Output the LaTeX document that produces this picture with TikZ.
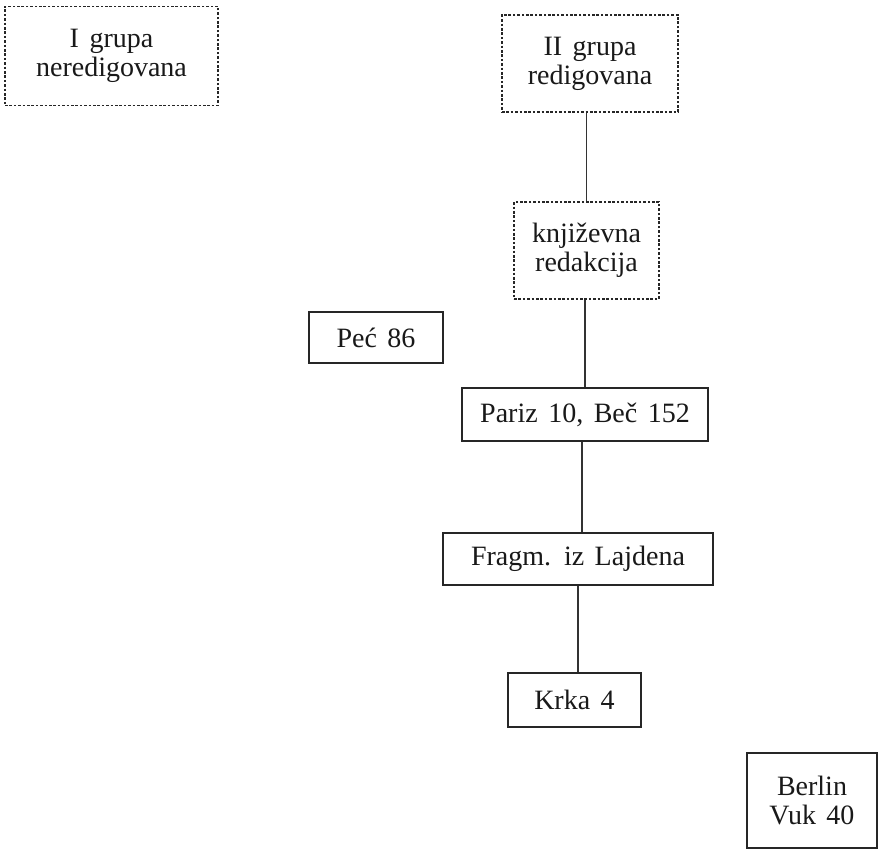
\documentclass[tikz,border=0pt]{standalone}
\usepackage{fontspec}
\setmainfont{Liberation Serif}[WordSpace=1.5]
\begin{document}
\begin{tikzpicture}[x=0.5pt,y=-0.5pt,
  box/.style={draw=black!85, line width=0.6pt, inner sep=0pt, align=center,
    font=\fontsize{14}{14.5}\selectfont, text=black!90},
  dbox/.style={box, dash pattern=on 1.3pt off 0.9pt, line width=0.55pt},
  conn/.style={draw=black!80, line width=0.55pt}]
\useasboundingbox (0,0) rectangle (878,850);
\fill[white] (0,0) rectangle (878,850);
\node[dbox, minimum width=106.5pt, minimum height=49.5pt] (g1) at (111.5,56) {I grupa\\neredigovana};
\node[dbox, minimum width=88pt, minimum height=48.5pt] (g2) at (590,63.5) {II grupa\\redigovana};
\node[dbox, minimum width=72.5pt, minimum height=48.5pt] (kr) at (586.5,250.5) {književna\\redakcija};
\node[box, minimum width=67pt, minimum height=25.5pt] (pec) at (376,337.5) {Peć 86};
\node[box, minimum width=123pt, minimum height=26.5pt] (par) at (585,414.5) {Pariz 10, Beč 152};
\node[box, minimum width=135pt, minimum height=26pt] (fra) at (578,559) {Fragm. iz Lajdena};
\node[box, minimum width=66.5pt, minimum height=27pt] (krk) at (574.5,700) {Krka 4};
\node[box, minimum width=65pt, minimum height=47.5pt] (ber) at (812,800.5) {Berlin\\Vuk 40};
\draw[conn] (g2.south -| kr) -- (kr);
\draw[conn] (kr.south -| par) -- (par);
\draw[conn] ([xshift=-1.5pt]par.south) -- ([xshift=-1.5pt]par.south |- fra.north);
\draw[conn] (fra.south) -- (fra.south |- krk.north);
\end{tikzpicture}
\end{document}
